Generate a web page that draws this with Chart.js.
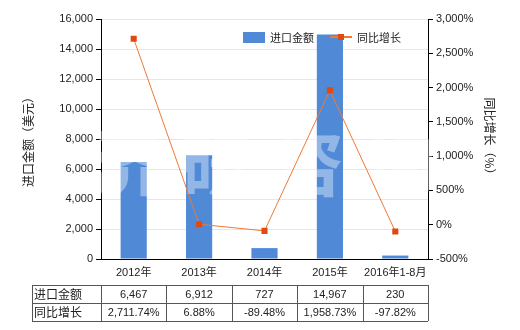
<!DOCTYPE html>
<html>
<head>
<meta charset="utf-8">
<script src="https://cdn.jsdelivr.net/npm/chart.js@4/dist/chart.umd.min.js"></script>
<style>
  html,body{margin:0;padding:0;background:#fff;}
  #wrap{width:520px;height:330px;position:relative;}
</style>
</head>
<body>
<div id="wrap"><canvas id="c" width="520" height="330"></canvas></div>
<script>
const CATEGORIES = ['2012年','2013年','2014年','2015年','2016年1-8月'];
const IMPORT_VALUES = [6467, 6912, 727, 14967, 230];
const YOY_GROWTH = [2711.74, 6.88, -89.48, 1958.73, -97.82];
const IMPORT_LABELS = ['6,467','6,912','727','14,967','230'];
const YOY_LABELS = ['2,711.74%','6.88%','-89.48%','1,958.73%','-97.82%'];
const SERIES_NAMES = ['进口金额','同比增长'];
const WATERMARK = ['济','研','咨','询'];

const FONT = "'Liberation Sans','Noto Sans CJK SC',sans-serif";
const BAR_COLOR = '#5089d6';
const LINE_COLOR = '#ee7a35';
const POINT_COLOR = '#e04a10';
const fmt = v => v.toLocaleString('en-US');

const Extras = {
  id: 'extras',
  afterDatasetDraw(chart, args) {
    if (args.index !== 1) return;
    // watermark over the bars
    const ctx = chart.ctx, a = chart.chartArea;
    ctx.save();
    ctx.font = "bold 72px 'Noto Sans CJK SC'";
    ctx.textAlign = 'center'; ctx.textBaseline = 'middle';
    ctx.fillStyle = 'rgba(255,255,255,0.38)';
    const xs = [125, 216, 308, 400];
    WATERMARK.forEach((ch, i) => ctx.fillText(ch, xs[i], 163));
    ctx.restore();
  },
  afterDraw(chart) {
    const ctx = chart.ctx, xs = chart.scales.x, a = chart.chartArea;
    ctx.save();
    // legend
    ctx.font = "11px 'Noto Sans CJK SC'";
    ctx.textBaseline = 'middle'; ctx.textAlign = 'left';
    ctx.fillStyle = BAR_COLOR; ctx.fillRect(243, 32, 22, 11);
    ctx.fillStyle = '#222'; ctx.fillText(SERIES_NAMES[0], 270, 37.5);
    ctx.strokeStyle = LINE_COLOR; ctx.lineWidth = 2;
    ctx.beginPath(); ctx.moveTo(330, 37); ctx.lineTo(352, 37); ctx.stroke();
    ctx.fillStyle = POINT_COLOR; ctx.fillRect(338, 34, 6, 6);
    ctx.fillStyle = '#222'; ctx.fillText(SERIES_NAMES[1], 357, 37.5);

    // data table
    const step = xs.getPixelForValue(1) - xs.getPixelForValue(0);
    const left = 32, right = a.right, top = 285, rh = 18;
    ctx.strokeStyle = '#555'; ctx.lineWidth = 1;
    ctx.beginPath();
    for (let r = 0; r <= 2; r++) { ctx.moveTo(left, top + r*rh + 0.5); ctx.lineTo(right, top + r*rh + 0.5); }
    ctx.moveTo(left + 0.5, top); ctx.lineTo(left + 0.5, top + 2*rh);
    for (let i = 0; i <= CATEGORIES.length; i++) {
      const x = Math.round(a.left + i*step) + 0.5;
      ctx.moveTo(x, top); ctx.lineTo(x, top + 2*rh);
    }
    ctx.stroke();
    ctx.fillStyle = '#222';
    ctx.font = "12px 'Noto Sans CJK SC'";
    ctx.textAlign = 'left';
    ctx.fillText(SERIES_NAMES[0], 34, top + rh/2);
    ctx.fillText(SERIES_NAMES[1], 34, top + rh*1.5);
    ctx.font = '11px ' + FONT;
    ctx.textAlign = 'center';
    CATEGORIES.forEach((c, i) => {
      const cx = xs.getPixelForValue(i);
      ctx.fillText(IMPORT_LABELS[i], cx, top + rh/2 + 1);
      ctx.fillText(YOY_LABELS[i], cx, top + rh*1.5 + 1);
    });
    ctx.restore();
  }
};

new Chart(document.getElementById('c'), {
  data: {
    labels: CATEGORIES,
    datasets: [
      { type:'line', label:SERIES_NAMES[1], data:YOY_GROWTH, yAxisID:'y1', order:0,
        borderColor:LINE_COLOR, borderWidth:1, tension:0,
        pointStyle:'rect', pointRadius:4.3, pointBackgroundColor:POINT_COLOR, pointBorderWidth:0 },
      { type:'bar', label:SERIES_NAMES[0], data:IMPORT_VALUES, yAxisID:'y', order:1,
        backgroundColor:BAR_COLOR, barPercentage:0.4, categoryPercentage:1 }
    ]
  },
  options: {
    responsive:false, animation:false,
    layout:{ padding:{ top:19, left:0, right:0, bottom:0 } },
    plugins:{ legend:{display:false}, tooltip:{enabled:false} },
    scales:{
      x:{
        grid:{ display:true, drawOnChartArea:false, drawTicks:false, tickLength:0 },
        border:{ display:true, color:'#000' },
        ticks:{ color:'#222', padding:7, maxRotation:0, font:{ size:11, family:FONT } },
        afterFit: s => { s.height = 71; }
      },
      y:{
        position:'left', min:0, max:16000,
        grid:{ color:'#e6e6e6', tickColor:'#000', tickLength:5 },
        border:{ color:'#000' },
        ticks:{ stepSize:2000, color:'#222', padding:3, font:{ size:11, family:FONT }, callback:v => fmt(v) },
        title:{ display:true, text:'进口金额（美元）', color:'#222', padding:{ top:21 }, font:{ size:12, family:"'Noto Sans CJK SC'" } },
        afterFit: s => { s.width = 101; }
      },
      y1:{
        position:'right', min:-500, max:3000,
        grid:{ drawOnChartArea:false, tickColor:'#000', tickLength:5 },
        border:{ color:'#000' },
        ticks:{ stepSize:500, color:'#222', padding:3, font:{ size:11, family:FONT }, callback:v => fmt(v) + '%' },
        title:{ display:true, text:'同比增长（%）', color:'#222', padding:{ top:23 }, font:{ size:12, family:"'Noto Sans CJK SC'" } },
        afterFit: s => { s.width = 92; }
      }
    }
  },
  plugins:[Extras]
});
</script>
</body>
</html>
